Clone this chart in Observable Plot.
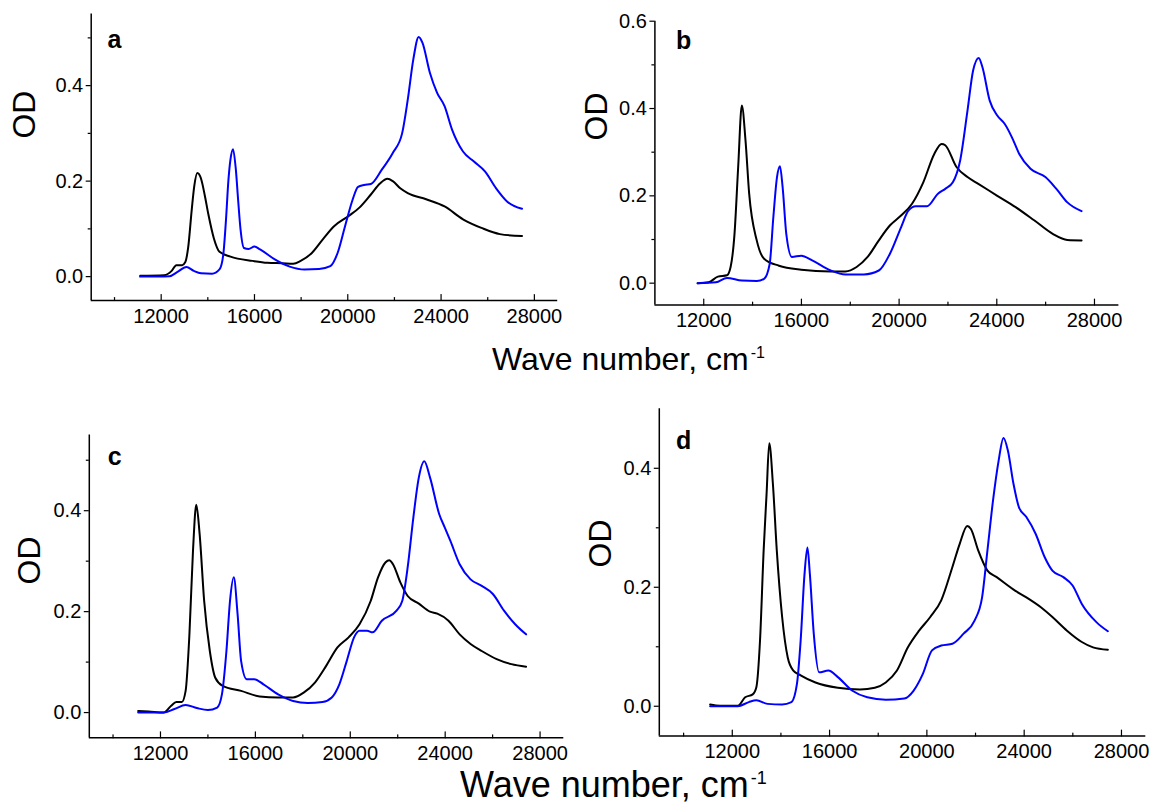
<!DOCTYPE html>
<html><head><meta charset="utf-8">
<script src="https://cdn.jsdelivr.net/npm/d3@7"></script>
<script src="https://cdn.jsdelivr.net/npm/@observablehq/plot@0.6"></script>
<style>
body{margin:0;background:#fff;}
#root{position:relative;width:1149px;height:805px;overflow:hidden;font-family:"Liberation Sans",Arial,sans-serif;background:#fff;}
.title{position:absolute;white-space:nowrap;line-height:1;color:#000;}
.title span{font-size:0.5em;position:relative;top:-0.75em;margin-left:2px;}
</style>
</head><body>
<div id="root">
  <div class="title" style="left:492px;top:343px;font-size:32px;">Wave number, cm<span>-1</span></div>
  <div class="title" style="left:460px;top:767px;font-size:36px;">Wave number, cm<span>-1</span></div>
</div>
<script>
// ---------- data ----------
const xMajorTicks = [12000, 16000, 20000, 24000, 28000];
const xMinorTicks = [10000, 14000, 18000, 22000, 26000];
const panelLetters = ["a", "b", "c", "d"];
const yTitle = "OD";

// panel a
const aBlackX = [11100,12130,12450,12650,12900,13030,13155,13310,13420,13550,13710,13870,14025,14260,14500,14970,15920,16550,17190,17660,17980,18450,18930,19400,20040,20510,20990,21380,21700,21930,22250,22570,23360,24150,24940,25730,26520,27470];
const aBlackY = [0.002,0.003,0.012,0.024,0.024,0.03,0.06,0.14,0.19,0.217,0.205,0.17,0.13,0.08,0.052,0.042,0.033,0.029,0.028,0.027,0.033,0.049,0.078,0.105,0.127,0.145,0.172,0.195,0.205,0.2,0.185,0.175,0.162,0.147,0.12,0.102,0.089,0.085];
const aBlueX = [11100,12360,12700,13080,13400,13710,14180,14500,14660,14780,14880,14970,15080,15200,15300,15400,15550,15750,16000,16240,16870,17510,18140,18770,19250,19560,19880,20200,20440,20700,20990,21460,21930,22330,22570,22810,23040,23200,23520,23830,24150,24470,24940,25410,25890,26360,26840,27470];
const aBlueY = [0.0,0.001,0.01,0.02,0.012,0.007,0.006,0.015,0.045,0.12,0.2,0.245,0.267,0.225,0.16,0.1,0.06,0.058,0.063,0.057,0.036,0.021,0.015,0.016,0.022,0.049,0.105,0.16,0.188,0.192,0.194,0.224,0.259,0.3,0.37,0.455,0.502,0.49,0.427,0.385,0.357,0.308,0.262,0.241,0.22,0.185,0.157,0.142];

// panel b
const bBlackX = [11750,12200,12580,12950,13100,13260,13410,13560,13710,13860,14170,14470,15080,15990,17200,17800,18260,18710,19170,19620,20080,20530,20990,21440,21740,21890,22350,22800,23260,24020,24770,25530,26290,26890,27470];
const bBlackY = [0.0,0.002,0.015,0.018,0.037,0.113,0.266,0.407,0.327,0.205,0.098,0.056,0.04,0.031,0.027,0.027,0.037,0.06,0.098,0.132,0.155,0.182,0.231,0.296,0.319,0.316,0.266,0.243,0.227,0.2,0.174,0.144,0.113,0.099,0.098];
const bBlueX = [11750,12500,12950,13560,14170,14470,14700,14850,15000,15120,15230,15380,15610,15990,16440,17200,17800,18560,19170,19620,20080,20380,20680,21140,21590,21890,22200,22500,22800,23030,23260,23410,23710,24020,24320,24620,24920,25380,25990,26440,26890,27470];
const bBlueY = [0.0,0.002,0.012,0.006,0.005,0.01,0.044,0.151,0.243,0.268,0.22,0.113,0.06,0.063,0.052,0.029,0.02,0.02,0.029,0.067,0.128,0.166,0.176,0.176,0.205,0.216,0.231,0.281,0.395,0.487,0.516,0.495,0.418,0.384,0.365,0.334,0.296,0.262,0.243,0.216,0.185,0.165];

// panel c
const cBlackX = [11060,11500,12130,12440,12670,12900,13060,13220,13370,13510,13650,13840,14080,14310,14620,15400,16180,16960,17590,18050,18520,18990,19460,19930,20390,20860,21170,21490,21640,21800,22110,22420,22890,23360,23670,24140,24610,25070,25540,26170,26790,27410];
const cBlackY = [0.003,0.002,0.0,0.013,0.021,0.021,0.043,0.155,0.32,0.412,0.354,0.222,0.122,0.069,0.053,0.043,0.032,0.03,0.03,0.04,0.06,0.093,0.129,0.149,0.175,0.221,0.268,0.298,0.302,0.294,0.258,0.231,0.216,0.2,0.196,0.182,0.155,0.136,0.122,0.106,0.096,0.091];
const cBlueX = [11060,12130,12590,13060,13530,14000,14390,14590,14780,14930,15090,15250,15400,15640,15950,16340,16960,17590,18210,18830,19220,19540,19850,20160,20390,20710,20940,21330,21950,22190,22420,22660,22890,23120,23360,23750,23980,24220,24610,25070,25540,26010,26480,26950,27410];
const cBlueY = [0.0,0.0,0.007,0.015,0.009,0.005,0.01,0.036,0.122,0.221,0.268,0.195,0.102,0.066,0.066,0.056,0.036,0.023,0.019,0.021,0.03,0.056,0.102,0.149,0.162,0.162,0.159,0.182,0.202,0.221,0.288,0.387,0.466,0.498,0.466,0.393,0.367,0.34,0.294,0.264,0.251,0.235,0.202,0.175,0.155];

// panel d
const dBlackX = [11090,11500,12230,12530,12840,12990,13140,13290,13410,13520,13670,13830,14050,14280,14510,14810,15420,16340,17250,17860,18310,18770,19220,19680,20140,20590,21050,21350,21660,21810,22110,22490,22870,23640,24090,24700,25160,25760,26370,26830,27440];
const dBlackY = [0.003,0.001,0.001,0.015,0.02,0.032,0.11,0.262,0.357,0.442,0.374,0.262,0.15,0.082,0.06,0.052,0.04,0.031,0.028,0.031,0.04,0.06,0.099,0.127,0.15,0.178,0.234,0.273,0.303,0.298,0.262,0.228,0.217,0.194,0.183,0.166,0.15,0.127,0.108,0.099,0.095];
const dBlueX = [11090,12230,12680,12990,13450,14050,14430,14660,14810,14970,15090,15190,15350,15570,15950,16340,16940,17550,18310,19070,19450,19830,20210,20590,21050,21510,21960,22270,22490,22720,22950,23150,23330,23560,23790,24090,24470,24850,25160,25610,25990,26370,26980,27440];
const dBlueY = [0.0,0.0,0.007,0.01,0.004,0.003,0.007,0.038,0.11,0.222,0.267,0.222,0.122,0.057,0.06,0.049,0.026,0.015,0.011,0.013,0.026,0.054,0.094,0.102,0.105,0.122,0.144,0.183,0.262,0.346,0.413,0.451,0.43,0.374,0.334,0.318,0.29,0.25,0.228,0.217,0.203,0.172,0.141,0.126];

const xDomains = [[9000, 29000], [10000, 29000], [9000, 29000], [9000, 29000]];
const yDomains = [[-0.05, 0.55], [-0.05, 0.6], [-0.05, 0.55], [-0.05, 0.5]];
const yMajorTicks = [[0, 0.2, 0.4], [0, 0.2, 0.4, 0.6], [0, 0.2, 0.4], [0, 0.2, 0.4]];
const yMinorTicks = [[0.1, 0.3, 0.5], [0.1, 0.3, 0.5], [0.1, 0.3, 0.5], [0.1, 0.3]];

// ---------- layout ----------
const layouts = [
  {left: 0,   top: 0,   width: 570, height: 335, ml: 90.7, mr: 12.8, mt: 13.5, mb: 35,   lx: 16.3, ly: 16.5, ox: -66.7, oy: -18.7},
  {left: 570, top: 0,   width: 579, height: 340, ml: 84.4, mr: 30.6, mt: 20.7, mb: 35.5, lx: 21,   ly: 9.6,  ox: -58.4, oy: -22.6},
  {left: 0,   top: 400, width: 570, height: 375, ml: 88.8, mr: 6.7,  mt: 34.5, mb: 37.7, lx: 18.5, ly: 12.5, ox: -59.2, oy: -1.9},
  {left: 570, top: 400, width: 579, height: 375, ml: 88.8, mr: 3.7,  mt: 8.3,  mb: 39.5, lx: 16.6, ly: 22.7, ox: -58.3, oy: -4.9}
];

const series = [
  [aBlackX, aBlackY, aBlueX, aBlueY],
  [bBlackX, bBlackY, bBlueX, bBlueY],
  [cBlackX, cBlackY, cBlueX, cBlueY],
  [dBlackX, dBlackY, dBlueX, dBlueY]
];

const tickUp = {draw(context, l) { context.moveTo(0, 0); context.lineTo(0, -l); }};
const fontFamily = '"Liberation Sans", Arial, sans-serif';
const root = document.getElementById("root");

series.forEach(([bx, by, ux, uy], i) => {
  const L = layouts[i];
  const black = bx.map((x, j) => ({x, y: by[j]}));
  const blue = ux.map((x, j) => ({x, y: uy[j]}));
  const svg = Plot.plot({
    width: L.width, height: L.height,
    marginLeft: L.ml, marginRight: L.mr, marginTop: L.mt, marginBottom: L.mb,
    x: {domain: xDomains[i]},
    y: {domain: yDomains[i]},
    style: {fontFamily, fontSize: "20px", color: "#000", background: "transparent", overflow: "visible"},
    marks: [
      Plot.line(black, {x: "x", y: "y", stroke: "#000", strokeWidth: 2, curve: "monotone-x"}),
      Plot.line(blue, {x: "x", y: "y", stroke: "#0000ff", strokeWidth: 2, curve: "monotone-x"}),
      Plot.ruleX([xDomains[i][0]], {stroke: "#000", strokeWidth: 1.5}),
      Plot.ruleY([yDomains[i][0]], {stroke: "#000", strokeWidth: 1.5}),
      Plot.axisY({ticks: yMajorTicks[i], tickSize: 5, tickPadding: 3, tickFormat: d3.format(".1f"), label: null, fontSize: 20, strokeWidth: 1.2}),
      Plot.axisY({ticks: yMinorTicks[i], tickSize: 3, tickFormat: () => "", label: null, strokeWidth: 1.2}),
      Plot.axisX({ticks: xMajorTicks, tickSize: 0, tickPadding: 8, tickFormat: d => String(d), label: null, fontSize: 20}),
      Plot.vector(xMajorTicks, {x: d => d, frameAnchor: "bottom", length: 6, anchor: "start", shape: tickUp, stroke: "#000", strokeWidth: 1.2}),
      Plot.vector(xMinorTicks.filter(t => t > xDomains[i][0]), {x: d => d, frameAnchor: "bottom", length: 3, anchor: "start", shape: tickUp, stroke: "#000", strokeWidth: 1.2}),
      Plot.text([panelLetters[i]], {text: d => d, frameAnchor: "top-left", dx: L.lx, dy: L.ly, textAnchor: "start", fontWeight: "bold", fontSize: 25, fill: "#000"}),
      Plot.text([yTitle], {text: d => d, frameAnchor: "left", dx: L.ox, dy: L.oy, rotate: -90, fontSize: 32, fill: "#000"})
    ]
  });
  svg.style.position = "absolute";
  svg.style.left = L.left + "px";
  svg.style.top = L.top + "px";
  root.appendChild(svg);
});
</script>
</body></html>
